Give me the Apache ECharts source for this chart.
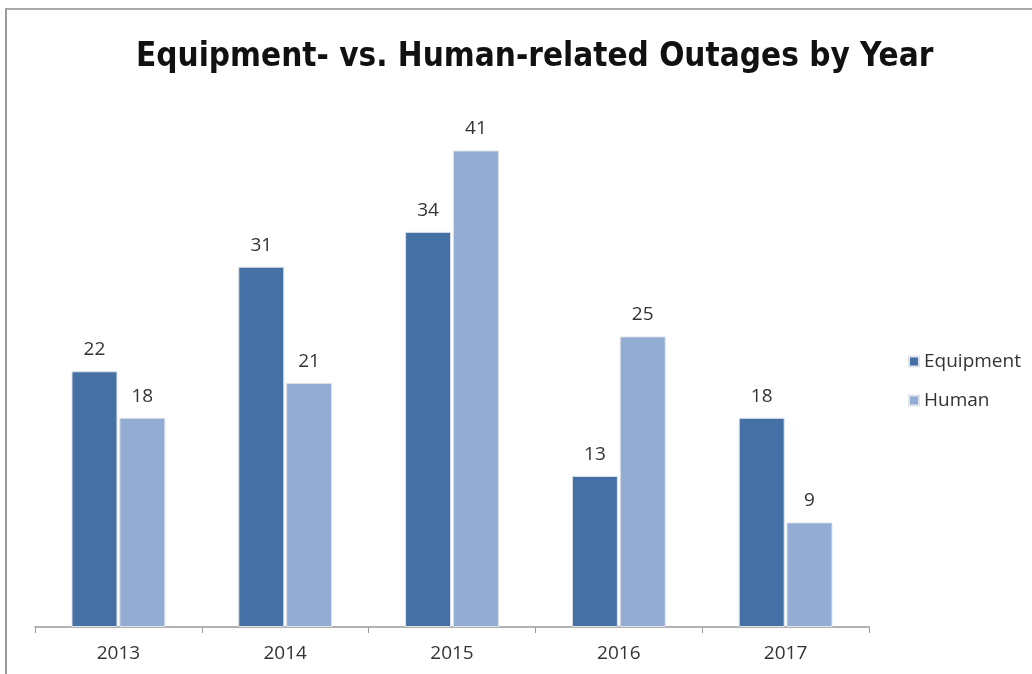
<!DOCTYPE html>
<html><head><meta charset="utf-8">
<script src="https://cdn.jsdelivr.net/npm/echarts@6/dist/echarts.min.js"></script>
<style>
html,body{margin:0;padding:0;background:#fff;}
#frame{position:absolute;left:5px;top:8px;width:1040px;height:680px;border-left:2px solid #999;border-top:2px solid #aaa;}
#c{position:absolute;left:0;top:0;width:1032px;height:674px;}
</style></head>
<body>
<div id="frame"></div>
<div id="c"></div>
<script>
const categories = ['2013','2014','2015','2016','2017'];
const equipment = [22,31,34,13,18];
const human = [18,21,41,25,9];
const seriesNames = ['Equipment','Human'];

const chart = echarts.init(document.getElementById('c'), null, {renderer:'canvas'});
const labelStyle = {show:true, position:'top', distance:12, color:'#333', fontSize:19, fontFamily:'Open Sans'};
chart.setOption({
  backgroundColor:'transparent',
  title:{text:'Equipment- vs. Human-related Outages by Year', left:131, top:36,
    textStyle:{fontFamily:'DejaVu Sans Condensed, Roboto', fontWeight:'bold', fontSize:33, color:'#111'}},
  legend:{orient:'vertical', left:903, top:347, itemWidth:10, itemHeight:10, itemGap:20,
    icon:'rect', textStyle:{fontSize:19, color:'#333', fontFamily:'Open Sans'}, data:seriesNames},
  grid:{left:35, right:163, top:104, bottom:47, containLabel:false},
  xAxis:{type:'category', data:categories,
    axisLine:{lineStyle:{color:'#999', width:1.5}},
    axisTick:{show:true, length:6, lineStyle:{color:'#999'}},
    axisLabel:{color:'#333', fontSize:19, margin:17, fontFamily:'Open Sans'}},
  yAxis:{type:'value', min:0, max:45, show:false, splitLine:{show:false}},
  series:[
    {name:seriesNames[0], type:'bar', data:equipment, barWidth:46, barGap:'4%',
      itemStyle:{color:'#4470A6', borderColor:'#dfe3ea', borderWidth:1}, label:labelStyle},
    {name:seriesNames[1], type:'bar', data:human, barWidth:46,
      itemStyle:{color:'#93ACD3', borderColor:'#dfe3ea', borderWidth:1}, label:labelStyle}
  ]
});
</script>
</body></html>
